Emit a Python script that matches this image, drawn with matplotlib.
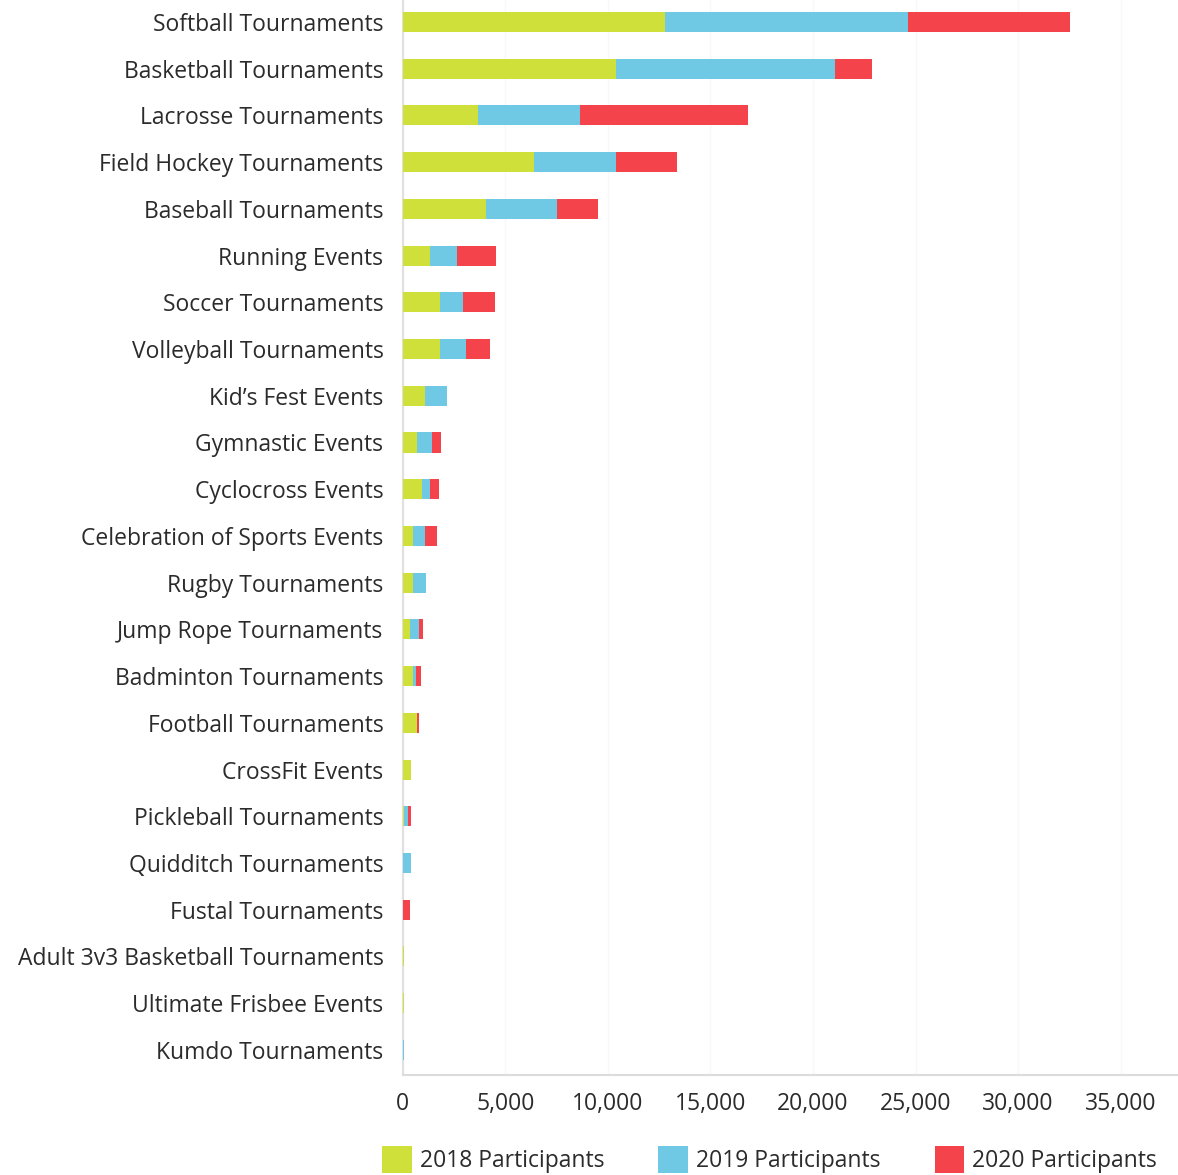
import matplotlib.pyplot as plt
import matplotlib.ticker as ticker
import numpy as np

categories = [
    'Softball Tournaments', 'Basketball Tournaments', 'Lacrosse Tournaments',
    'Field Hockey Tournaments', 'Baseball Tournaments', 'Running Events',
    'Soccer Tournaments', 'Volleyball Tournaments', "Kid’s Fest Events",
    'Gymnastic Events', 'Cyclocross Events', 'Celebration of Sports Events',
    'Rugby Tournaments', 'Jump Rope Tournaments', 'Badminton Tournaments',
    'Football Tournaments', 'CrossFit Events', 'Pickleball Tournaments',
    'Quidditch Tournaments', 'Fustal Tournaments',
    'Adult 3v3 Basketball Tournaments', 'Ultimate Frisbee Events',
    'Kumdo Tournaments',
]
p2018 = [12780, 10390, 3680, 6410, 4030, 1320, 1800, 1800, 1100, 670, 910, 500,
         500, 340, 500, 670, 420, 50, 30, 0, 60, 60, 0]
p2019 = [11840, 10680, 4950, 4000, 3500, 1330, 1140, 1300, 1060, 730, 410, 570,
         620, 440, 130, 0, 0, 180, 360, 0, 0, 0, 40]
p2020 = [7920, 1810, 8180, 2940, 2000, 1870, 1550, 1140, 0, 440, 450, 600,
         0, 210, 250, 130, 0, 190, 0, 340, 0, 0, 0]

series_names = ['2018 Participants', '2019 Participants', '2020 Participants']
colors = ['#cfe03a', '#6fc8e4', '#f4434b']
xticks = [0, 5000, 10000, 15000, 20000, 25000, 30000, 35000]

plt.rcParams['font.family'] = ['Open Sans', 'DejaVu Sans']
text_color = '#2b2b2b'

fig = plt.figure(figsize=(11.78, 11.75), dpi=100, facecolor='white')
ax = fig.add_axes([0.342, 0.085, 0.658, 0.915])

# stacked horizontal bars, one segment per year
y = np.arange(len(categories))
left = np.zeros(len(categories))
for vals, name, col in zip([p2018, p2019, p2020], series_names, colors):
    vals = np.array(vals, dtype=float)
    ax.barh(y, vals, left=left, height=0.43, color=col, label=name, zorder=3)
    left += vals

ax.set_ylim(len(categories) - 1 + 0.54, -0.47)
ax.set_xlim(0, 37800)
ax.set_yticks(y)
ax.set_yticklabels(categories, fontsize=16.5, color=text_color)
ax.set_xticks(xticks)
ax.xaxis.set_major_formatter(ticker.FuncFormatter(lambda v, _: f'{int(v):,}'))
ax.tick_params(axis='x', length=0, pad=12, labelsize=16.5, labelcolor=text_color)
ax.tick_params(axis='y', length=0, pad=14)

ax.grid(axis='x', color='#f8f8f8', linewidth=1, zorder=0)
for side in ['top', 'right']:
    ax.spines[side].set_visible(False)
ax.spines['left'].set_color('#e0e0e0')
ax.spines['bottom'].set_color('#dcdcdc')
ax.spines['left'].set_linewidth(1.5)
ax.spines['bottom'].set_linewidth(1.5)

fig.legend(loc='lower left', bbox_to_anchor=(0.307, -0.016), ncol=3,
           frameon=False, fontsize=16.5, handlelength=1.3, handleheight=1.4,
           handletextpad=0.35, columnspacing=2.35, labelcolor=text_color)

fig.savefig('out.png', dpi=100, facecolor='white')
